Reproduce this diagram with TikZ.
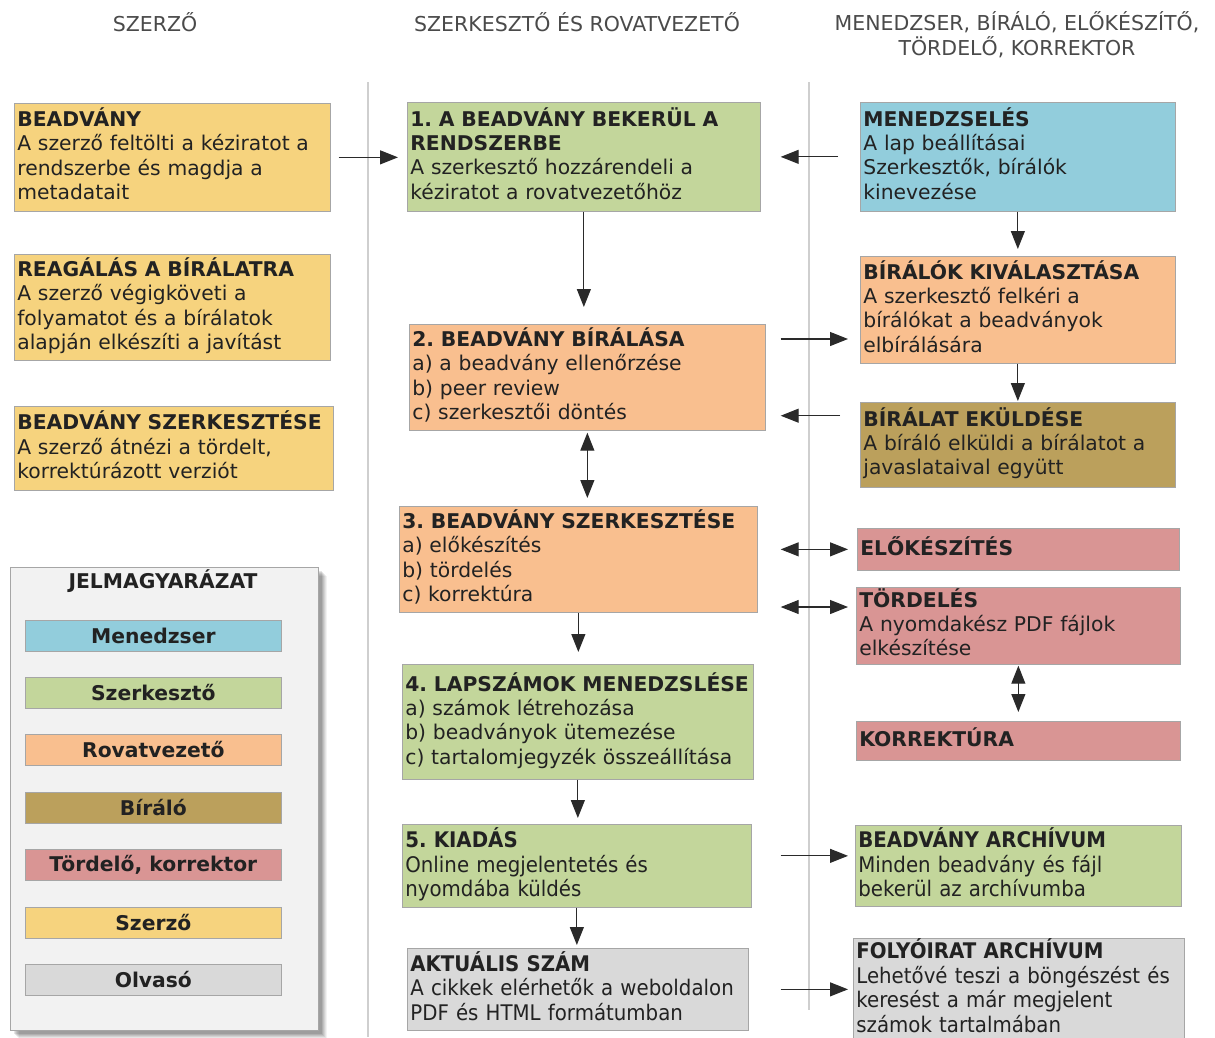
\documentclass[tikz,border=0pt]{standalone}
\usepackage{fontspec}
\setmainfont{DejaVu Sans}
\newfontfamily\condfont[FakeStretch=0.92]{DejaVu Sans}
\usetikzlibrary{arrows.meta,calc}
\definecolor{cYel}{HTML}{F6D37E}
\definecolor{cGrn}{HTML}{C3D69B}
\definecolor{cOrg}{HTML}{F9BF8F}
\definecolor{cBlu}{HTML}{92CDDC}
\definecolor{cBrn}{HTML}{BBA05C}
\definecolor{cPnk}{HTML}{D99594}
\definecolor{cGry}{HTML}{D9D9D9}
\definecolor{cLeg}{HTML}{F2F2F2}
\definecolor{boxline}{HTML}{A6A6A6}
\definecolor{txt}{HTML}{222222}
\definecolor{headc}{HTML}{4A4A4A}
\definecolor{arrc}{HTML}{2A2A2A}
\definecolor{sepc}{HTML}{CFCFCF}
\newcommand\bodyfs{\fontsize{20.3}{24.3}\selectfont}
\newcommand\condfs{\condfont\fontsize{21.5}{24.3}\selectfont}
\newcommand\blines[1]{\begin{tabular}{@{}l@{}}#1\end{tabular}}
\frenchspacing
\begin{document}
\frenchspacing
\begin{tikzpicture}[x=1pt,y=-1pt,
  box/.style={draw=boxline, line width=0.7pt, anchor=north west, inner xsep=3pt, inner ysep=0pt, align=left, text=txt, font=\bodyfs},
  arr/.style={draw=arrc, line width=1.1pt, -{Triangle[length=18pt,width=14pt]}},
  darr/.style={draw=arrc, line width=1.1pt, {Triangle[length=18pt,width=14pt]}-{Triangle[length=18pt,width=14pt]}},
  sepline/.style={draw=sepc, line width=1.2pt},
  head/.style={font=\fontsize{20.5}{25}\selectfont, text=headc, align=center},
  legbar/.style={draw=boxline, line width=0.7pt, minimum width=256pt, minimum height=31pt, font=\bodyfs\bfseries, text=txt, anchor=north west, inner sep=0pt}]
\useasboundingbox (0,0) rectangle (1215,1037);
\fill[white] (0,0) rectangle (1215,1037);

% headers
\node[head] (h1) at (155,22) {SZERZŐ};
\node[head] (h2) at (577,22) {SZERKESZTŐ ÉS ROVATVEZETŐ};
\node[head] (h3) at (1017,35) {MENEDZSER, BÍRÁLÓ, ELŐKÉSZÍTŐ,\\TÖRDELŐ, KORREKTOR};

% separators
\coordinate (sa) at (368,82); \coordinate (sb) at (368,1037);
\coordinate (sc) at (809,82); \coordinate (sd) at (809,1010);
\draw[sepline] (sa) -- (sb);
\draw[sepline] (sc) -- (sd);

% left column
\node[box, fill=cYel, minimum width=316pt, minimum height=108pt, text width=310pt] (beadv) at (14,103)
 {\blines{\textbf{BEADVÁNY}\\A szerző feltölti a kéziratot a\\rendszerbe és magdja a\\metadatait}};
\node[box, fill=cYel, minimum width=316pt, minimum height=106pt, text width=310pt] (reag) at (14,254)
 {\blines{\textbf{REAGÁLÁS A BÍRÁLATRA}\\A szerző végigköveti a\\folyamatot és a bírálatok\\alapján elkészíti a javítást}};
\node[box, fill=cYel, minimum width=319pt, minimum height=84pt, text width=313pt] (bszerk) at (14,406)
 {\blines{\textbf{BEADVÁNY SZERKESZTÉSE}\\A szerző átnézi a tördelt,\\korrektúrázott verziót}};

% legend with soft shadow
\foreach \d/\o in {9/0.05,8/0.06,7/0.07,6/0.08,5/0.09,4/0.10}
  \fill[black, opacity=\o] (10+\d,567+\d) rectangle (318+\d,1030+\d);
\node[draw=boxline, line width=0.7pt, fill=cLeg, anchor=north west, minimum width=308pt, minimum height=463pt, inner sep=0pt] (legend) at (10,567) {};
\node[font=\bodyfs\bfseries, text=txt] (legt) at (163,581) {JELMAGYARÁZAT};
\node[legbar, fill=cBlu] (l1) at (25,620) {Menedzser};
\node[legbar, fill=cGrn] (l2) at (25,677) {Szerkesztő};
\node[legbar, fill=cOrg] (l3) at (25,734) {Rovatvezető};
\node[legbar, fill=cBrn] (l4) at (25,792) {Bíráló};
\node[legbar, fill=cPnk] (l5) at (25,849) {Tördelő, korrektor};
\node[legbar, fill=cYel] (l6) at (25,907) {Szerző};
\node[legbar, fill=cGry] (l7) at (25,964) {Olvasó};

% middle column
\node[box, fill=cGrn, minimum width=353pt, minimum height=109pt, text width=347pt] (s1) at (407,102)
 {\blines{\textbf{1. A BEADVÁNY BEKERÜL A}\\\textbf{RENDSZERBE}\\A szerkesztő hozzárendeli a\\kéziratot a rovatvezetőhöz}};
\node[box, fill=cOrg, minimum width=356pt, minimum height=106pt, text width=350pt] (s2) at (409,324)
 {\blines{\textbf{2. BEADVÁNY BÍRÁLÁSA}\\a) a beadvány ellenőrzése\\b) peer review\\c) szerkesztői döntés}};
\node[box, fill=cOrg, minimum width=358pt, minimum height=106pt, text width=352pt] (s3) at (399,506)
 {\blines{\textbf{3. BEADVÁNY SZERKESZTÉSE}\\a) előkészítés\\b) tördelés\\c) korrektúra}};
\node[box, fill=cGrn, minimum width=351pt, minimum height=115pt, text width=345pt] (s4) at (402,664)
 {\blines{\textbf{4. LAPSZÁMOK MENEDZSLÉSE}\\a) számok létrehozása\\b) beadványok ütemezése\\c) tartalomjegyzék összeállítása}};
\node[box, fill=cGrn, minimum width=349pt, minimum height=83pt, text width=343pt, font=\condfs] (s5) at (402,824)
 {\blines{\textbf{5. KIADÁS}\\Online megjelentetés és\\nyomdába küldés}};
\node[box, fill=cGry, minimum width=341pt, minimum height=82pt, text width=335pt, font=\condfs] (akt) at (407,948)
 {\blines{\textbf{AKTUÁLIS SZÁM}\\A cikkek elérhetők a weboldalon\\PDF és HTML formátumban}};

% right column
\node[box, fill=cBlu, minimum width=315pt, minimum height=109pt, text width=309pt] (men) at (860,102)
 {\blines{\textbf{MENEDZSELÉS}\\A lap beállításai\\Szerkesztők, bírálók\\kinevezése}};
\node[box, fill=cOrg, minimum width=315pt, minimum height=107pt, text width=309pt] (bir) at (860,256)
 {\blines{\textbf{BÍRÁLÓK KIVÁLASZTÁSA}\\A szerkesztő felkéri a\\bírálókat a beadványok\\elbírálására}};
\node[box, fill=cBrn, minimum width=315pt, minimum height=85pt, text width=309pt] (bkuld) at (860,402)
 {\blines{\textbf{BÍRÁLAT EKÜLDÉSE}\\A bíráló elküldi a bírálatot a\\javaslataival együtt}};
\node[box, fill=cPnk, minimum width=322pt, minimum height=42pt, text width=316pt] (elok) at (857,528)
 {\blines{\textbf{ELŐKÉSZÍTÉS}}};
\node[box, fill=cPnk, minimum width=324pt, minimum height=77pt, text width=318pt] (tord) at (856,587)
 {\blines{\textbf{TÖRDELÉS}\\A nyomdakész PDF fájlok\\elkészítése}};
\node[box, fill=cPnk, minimum width=324pt, minimum height=39pt, text width=318pt] (korr) at (856,721)
 {\blines{\textbf{KORREKTÚRA}}};
\node[box, fill=cGrn, minimum width=326pt, minimum height=81pt, text width=320pt, font=\condfs] (barch) at (855,825)
 {\blines{\textbf{BEADVÁNY ARCHÍVUM}\\Minden beadvány és fájl\\bekerül az archívumba}};
\node[box, fill=cGry, minimum width=331pt, minimum height=102pt, text width=325pt, font=\condfs] (farch) at (853,938)
 {\blines{\textbf{FOLYÓIRAT ARCHÍVUM}\\Lehetővé teszi a böngészést és\\keresést a már megjelent\\számok tartalmában}};

% connectors
\draw[arr, shorten <=8pt, shorten >=9pt] (beadv.east) -- (beadv.east -| s1.west);
\draw[arr, shorten <=22pt, shorten >=20pt] (men.west) -- (men.west -| s1.east);
\draw[arr, shorten >=17pt] (s1.south) -- (s1.south |- s2.north);
\coordinate (p2) at ($(s2.north east)+(0,15)$);
\draw[arr, shorten <=15pt, shorten >=12pt] (p2) -- (p2 -| bir.west);
\coordinate (p3) at ($(s2.south east)+(0,-15)$);
\draw[arr, shorten <=20pt, shorten >=15pt] (p3 -| bkuld.west) -- (p3);
\draw[darr, shorten <=2pt, shorten >=8pt] (s2.south) -- (s2.south |- s3.north);
\draw[arr, shorten >=7pt] (men.south) -- (men.south |- bir.north);
\draw[arr, shorten >=1pt] (bir.south) -- (bir.south |- bkuld.north);
\draw[darr, shorten <=23pt, shorten >=9pt] (elok.west -| s3.east) -- (elok.west);
\coordinate (p4) at ($(tord.north west)+(0,20)$);
\draw[darr, shorten <=23pt, shorten >=8pt] (p4 -| s3.east) -- (p4);
\draw[darr, shorten <=1pt, shorten >=9pt] (tord.south) -- (tord.south |- korr.north);
\draw[arr, shorten >=12pt] (s3.south) -- (s3.south |- s4.north);
\draw[arr, shorten >=6pt] (s4.south) -- (s4.south |- s5.north);
\coordinate (p5) at ($(s5.east)+(0,-10)$);
\draw[arr, shorten <=29pt, shorten >=7pt] (p5) -- (p5 -| barch.west);
\draw[arr, shorten >=3pt] (s5.south) -- (s5.south |- akt.north);
\draw[arr, shorten <=32pt, shorten >=5pt] (akt.east) -- (akt.east -| farch.west);
\end{tikzpicture}
\end{document}
